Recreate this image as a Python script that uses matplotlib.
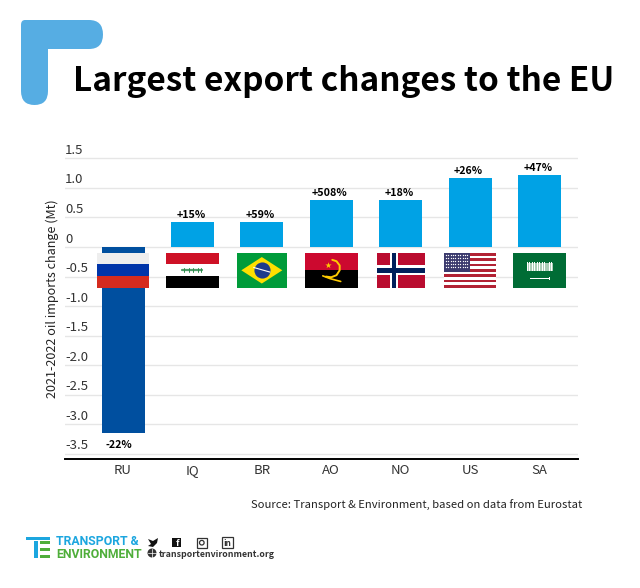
# Largest export changes to the EU - bar chart with flags
import matplotlib
matplotlib.use("Agg")
import matplotlib.pyplot as plt
import numpy as np
from matplotlib.patches import Rectangle, Polygon, Circle, PathPatch
from matplotlib.path import Path

plt.rcParams['font.family'] = ['Noto Sans CJK JP', 'DejaVu Sans']

# Data
countries = ["RU", "IQ", "BR", "AO", "NO", "US", "SA"]
changes = [-3.15, 0.42, 0.42, 0.80, 0.80, 1.16, 1.21]
pct_labels = ["-22%", "+15%", "+59%", "+508%", "+18%", "+26%", "+47%"]
y_ticks = [1.5, 1.0, 0.5, 0, -0.5, -1.0, -1.5, -2.0, -2.5, -3.0, -3.5]
y_tick_labels = ["1.5", "1.0", "0.5", "0", "-0.5", "-1.0", "-1.5", "-2.0", "-2.5", "-3.0", "-3.5"]
flag_widths = [0.76, 0.76, 0.72, 0.76, 0.69, 0.76, 0.76]

W, H = 640, 588
fig = plt.figure(figsize=(W / 100, H / 100), dpi=100, facecolor="white")

# Overlay in pixel coordinates for title, corner shape and footer
bg = fig.add_axes([0, 0, 1, 1])
bg.set_xlim(0, W)
bg.set_ylim(H, 0)
bg.axis("off")

corner = Path(
    [(25, 20), (21, 20), (21, 25), (21, 91), (21, 105), (34.5, 105), (48, 105), (48, 91),
     (48, 49), (89, 49), (103, 49), (103, 34.5), (103, 20), (89, 20), (25, 20)],
    [Path.MOVETO, Path.CURVE3, Path.CURVE3, Path.LINETO, Path.CURVE3, Path.CURVE3, Path.CURVE3, Path.CURVE3,
     Path.LINETO, Path.LINETO, Path.CURVE3, Path.CURVE3, Path.CURVE3, Path.CURVE3, Path.LINETO])
bg.add_patch(PathPatch(corner, fc="#56ade3", ec="none"))
bg.text(73, 91, "Largest export changes to the EU", fontsize=24, fontweight="bold",
        color="black", ha="left", va="baseline")

# Chart axes
left, right, top, bottom = 65, 578, 140, 458.5
ax = fig.add_axes([left / W, 1 - bottom / H, (right - left) / W, (bottom - top) / H])
ax.set_xlim(-0.836, 6.556)
ax.set_ylim(-3.58, 1.81)
ax.patch.set_alpha(0)
for s in ["top", "left", "right"]:
    ax.spines[s].set_visible(False)
ax.spines["bottom"].set_linewidth(1.4)
ax.spines["bottom"].set_color("black")

for v, lab in zip(y_ticks, y_tick_labels):
    ax.axhline(v, color="#e6e6e6", lw=1, zorder=0)
    ax.annotate(lab, (0, v), xycoords=("axes fraction", "data"), xytext=(0, 1),
                textcoords="offset points", fontsize=9.5, color="#333333", ha="left", va="bottom")

x = np.arange(len(countries))
colors = ["#004f9f" if c < 0 else "#00a2e5" for c in changes]
ax.bar(x, changes, width=0.62, color=colors, zorder=2)
for i, (c, lab) in enumerate(zip(changes, pct_labels)):
    if c < 0:
        ax.annotate(lab, (i, c), xytext=(-3, -5), textcoords="offset points", fontsize=7.7,
                    fontweight="bold", ha="center", va="top", color="black")
    else:
        ax.annotate(lab, (i, c), xytext=(-1, 1.5), textcoords="offset points", fontsize=7.7,
                    fontweight="bold", ha="center", va="bottom", color="black")

ax.set_xticks(x)
ax.set_xticklabels(countries, fontsize=9.5, color="#333333")
ax.tick_params(axis="x", length=0, pad=4)
ax.set_yticks([])
fig.text(52 / W, 1 - 299 / H, "2021-2022 oil imports change (Mt)", rotation=90, fontsize=9.05,
         color="#222222", ha="center", va="center")

# Flags, drawn in data space under each bar
FLAG_TOP, FLAG_BOTTOM = -0.10, -0.69


class Flag:
    def __init__(self, i, w):
        self.x0 = i - w / 2
        self.w = w
        self.h = FLAG_TOP - FLAG_BOTTOM

    def p(self, fx, fy):
        return self.x0 + fx * self.w, FLAG_TOP - fy * self.h

    def rect(self, fx0, fy0, fx1, fy1, color):
        xa, ya = self.p(fx0, fy1)
        ax.add_patch(Rectangle((xa, ya), (fx1 - fx0) * self.w, (fy1 - fy0) * self.h,
                               fc=color, ec="none", zorder=3))

    def poly(self, pts, color):
        ax.add_patch(Polygon([self.p(*q) for q in pts], closed=True, fc=color, ec="none", zorder=4))

    def line(self, pts, color, lw):
        xy = [self.p(*q) for q in pts]
        ax.plot([q[0] for q in xy], [q[1] for q in xy], color=color, lw=lw, zorder=5,
                solid_capstyle="round")


def russia(f):
    f.rect(0, 0, 1, 1 / 3, "#eeeeee")
    f.rect(0, 1 / 3, 1, 2 / 3, "#0035a9")
    f.rect(0, 2 / 3, 1, 1, "#d52b1e")


def iraq(f):
    f.rect(0, 0, 1, 1 / 3, "#ce1126")
    f.rect(0, 1 / 3, 1, 2 / 3, "white")
    f.rect(0, 2 / 3, 1, 1, "black")
    f.line([(0.31, 0.5), (0.69, 0.5)], "#4f9c6b", 1.6)
    for fx in (0.34, 0.44, 0.52, 0.6, 0.66):
        f.line([(fx, 0.42), (fx, 0.56)], "#2f8f4e", 0.7)


def brazil(f):
    f.rect(0, 0, 1, 1, "#009b3a")
    f.poly([(0.09, 0.5), (0.5, 0.12), (0.91, 0.5), (0.5, 0.88)], "#fedf00")
    cx, cy = f.p(0.5, 0.5)
    ax.scatter([cx], [cy], s=135, color="#1c3c8c", zorder=5, linewidths=0)
    xy = [f.p(0.34, 0.42), f.p(0.66, 0.55)]
    ax.plot([xy[0][0], xy[1][0]], [xy[0][1], xy[1][1]], color="white", lw=0.8, zorder=6)


def angola(f):
    f.rect(0, 0, 1, 0.5, "#cc092f")
    f.rect(0, 0.5, 1, 1, "black")
    f.line([(0.52, 0.2), (0.6, 0.24), (0.66, 0.36), (0.66, 0.5), (0.6, 0.64), (0.5, 0.7), (0.4, 0.68)],
           "#ffcb00", 1.4)
    f.line([(0.34, 0.66), (0.48, 0.74), (0.68, 0.82)], "#ffcb00", 1.2)
    sx, sy = f.p(0.44, 0.36)
    ax.scatter([sx], [sy], marker="*", s=22, color="#ffcb00", zorder=5, linewidths=0)


def norway(f):
    f.rect(0, 0, 1, 1, "#ba0c2f")
    f.rect(0.276, 0, 0.455, 1, "white")
    f.rect(0, 0.36, 1, 0.63, "white")
    f.rect(0.317, 0, 0.414, 1, "#00205b")
    f.rect(0, 0.44, 1, 0.57, "#00205b")


def usa(f):
    for k in range(13):
        f.rect(0, k / 13, 1, (k + 1) / 13, "#b22234" if k % 2 == 0 else "white")
    f.rect(0, 0, 0.5, 7 / 13, "#3c3b6e")
    pts = [f.p(0.04 + 0.0455 * a, 0.05 + 0.09 * b) for a in range(10) for b in range(5)]
    ax.scatter([q[0] for q in pts], [q[1] for q in pts], s=0.9, color="white", zorder=5, linewidths=0)


def saudi(f):
    f.rect(0, 0, 1, 1, "#006c35")
    f.rect(0.26, 0.28, 0.76, 0.52, "#a9cdb6")
    for k in range(16):
        fx = 0.27 + k * 0.032
        f.rect(fx, 0.27, fx + 0.012, 0.53, "white")
    f.rect(0.32, 0.72, 0.68, 0.75, "white")
    f.rect(0.68, 0.70, 0.71, 0.77, "white")


flag_painters = [russia, iraq, brazil, angola, norway, usa, saudi]
for i, paint in enumerate(flag_painters):
    paint(Flag(i, flag_widths[i]))

# Source line
bg.text(582, 508, "Source: Transport & Environment, based on data from Eurostat", fontsize=8.1,
        color="#222222", ha="right", va="baseline")

# Footer logo
blue, green = "#1ca6df", "#4fae3a"
bg.add_patch(Rectangle((26, 536.5), 24, 3, fc=blue, ec="none"))
bg.add_patch(Rectangle((33.5, 541), 4, 17, fc=blue, ec="none"))
for yy in (541, 547.5, 554.5):
    bg.add_patch(Rectangle((40, yy), 10, 3, fc=green, ec="none"))
bg.text(56, 545, "TRANSPORT &", fontsize=8.8, fontweight="bold", color=blue, ha="left", va="baseline",
        family=["Roboto"])
bg.text(56, 558, "ENVIRONMENT", fontsize=8.8, fontweight="bold", color=green, ha="left", va="baseline",
        family=["Roboto"])

# Social icons, rough shapes
bg.add_patch(Polygon([(148, 539), (153, 541), (158, 538), (157, 543), (153, 547), (148, 546), (151, 544)],
                     closed=True, fc="#111111", ec="none"))
bg.add_patch(Rectangle((172, 538), 9, 9, fc="#111111", ec="none"))
bg.text(177.5, 546.5, "f", fontsize=6.5, fontweight="bold", color="white", ha="center", va="baseline")
bg.add_patch(Rectangle((197, 538), 9.5, 9.5, fc="none", ec="#333333", lw=0.9))
bg.add_patch(Circle((201.8, 542.7), 2.3, fc="none", ec="#333333", lw=0.9))
bg.add_patch(Rectangle((222, 537), 10.5, 10.5, fc="none", ec="#333333", lw=0.9))
bg.text(227.2, 546, "in", fontsize=6, fontweight="bold", color="#333333", ha="center", va="baseline")
bg.add_patch(Circle((152, 553), 4.5, fc="#333333", ec="none"))
bg.plot([152, 152], [548.5, 557.5], color="white", lw=0.5)
bg.plot([147.5, 156.5], [553, 553], color="white", lw=0.5)
bg.text(159, 557, "transportenvironment.org", fontsize=6.3, fontweight="bold", color="#333333",
        ha="left", va="baseline")

fig.savefig("out.png", dpi=100)
